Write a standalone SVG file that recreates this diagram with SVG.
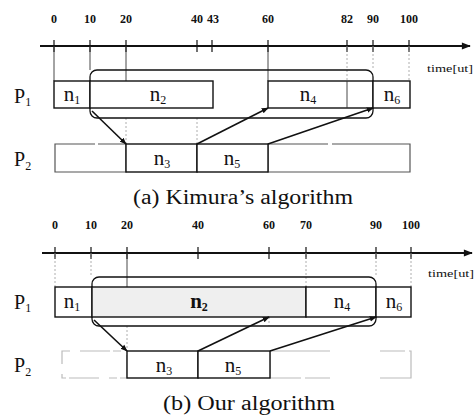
<svg xmlns="http://www.w3.org/2000/svg" width="475" height="415" viewBox="0 0 475 415">
<style>
text{font-family:"Liberation Serif","Times New Roman",serif;fill:#111}
.tk{font-size:12px;font-weight:bold;text-anchor:middle}
.nl{font-size:21px;text-anchor:middle}
.pl{font-size:20px}
.sub{font-size:12px}
.cap{font-size:20px;text-anchor:middle}
.tu{font-size:11px}
.box{fill:#fff;stroke:#111;stroke-width:1.4}
.grp{fill:none;stroke:#111;stroke-width:1.3}
.axis{stroke:#111;stroke-width:2;fill:none}
.tick{stroke:#111;stroke-width:1.2}
.guide{stroke:#333;stroke-width:0.9;fill:none}
.faint{stroke:#999;stroke-width:0.8;stroke-dasharray:2 2;fill:none}
.empty{fill:none;stroke:#555;stroke-width:1.2}
.arr{stroke:#111;stroke-width:1.6;fill:none;marker-end:url(#ah)}
</style>
<defs>
<marker id="ah" viewBox="0 0 10 10" refX="9" refY="5" markerWidth="7" markerHeight="7" orient="auto" markerUnits="userSpaceOnUse">
<path d="M0,1 L10,5 L0,9 z" fill="#111"/>
</marker>
<marker id="axh" viewBox="0 0 10 10" refX="9" refY="5" markerWidth="11" markerHeight="9" orient="auto" markerUnits="userSpaceOnUse">
<path d="M0,1 L10,5 L0,9 z" fill="#111"/>
</marker>
</defs>

<!-- (a) Kimura's algorithm -->
<g id="axis-a">
<text class="tk" x="54" y="23">0</text>
<text class="tk" x="90" y="23">10</text>
<text class="tk" x="126" y="23">20</text>
<text class="tk" x="197" y="23">40</text>
<text class="tk" x="213" y="23">43</text>
<text class="tk" x="268" y="23">60</text>
<text class="tk" x="347" y="23">82</text>
<text class="tk" x="373" y="23">90</text>
<text class="tk" x="409" y="23">100</text>
<line class="axis" x1="40" y1="46" x2="470" y2="46" marker-end="url(#axh)"/>
<g class="tick">
<line x1="54" y1="40" x2="54" y2="52"/><line x1="90" y1="40" x2="90" y2="52"/>
<line x1="126" y1="40" x2="126" y2="52"/><line x1="197" y1="40" x2="197" y2="52"/>
<line x1="212" y1="40" x2="212" y2="52"/><line x1="268" y1="40" x2="268" y2="52"/>
<line x1="347" y1="40" x2="347" y2="52"/><line x1="373" y1="40" x2="373" y2="52"/>
<line x1="409" y1="40" x2="409" y2="52"/>
</g>
<text class="tu" x="427" y="72" textLength="46" lengthAdjust="spacingAndGlyphs">time[ut]</text>
<line class="guide" x1="54" y1="46" x2="54" y2="81"/>
<line class="guide" x1="90" y1="46" x2="90" y2="70"/>
<line class="guide" x1="126" y1="46" x2="126" y2="81"/>
<line class="faint" x1="126" y1="118" x2="126" y2="144"/>
<line class="faint" x1="197" y1="118" x2="197" y2="144"/>
<line class="guide" x1="268" y1="46" x2="268" y2="81"/>
<line class="faint" x1="347" y1="46" x2="347" y2="81"/>
<line class="faint" x1="373" y1="46" x2="373" y2="70"/>
<line class="faint" x1="409" y1="46" x2="409" y2="81"/>
<text class="pl" x="14" y="103">P<tspan class="sub" dy="3">1</tspan></text>
<text class="pl" x="14" y="166">P<tspan class="sub" dy="4">2</tspan></text>
</g>
<g id="a-group"><rect class="grp" x="90" y="70" width="283" height="48" rx="7"/></g>
<g id="a-n1"><rect class="box" x="54" y="81" width="36" height="27"/><text class="nl" x="72" y="101">n<tspan class="sub" dy="3">1</tspan></text></g>
<g id="a-n2"><rect class="box" x="90" y="81" width="123" height="27"/><text class="nl" x="158" y="101">n<tspan class="sub" dy="3">2</tspan></text></g>
<g id="a-n4"><rect class="box" x="268" y="81" width="105" height="27"/><line class="guide" x1="347" y1="81" x2="347" y2="108"/><text class="nl" x="308" y="101">n<tspan class="sub" dy="3">4</tspan></text></g>
<g id="a-n6"><rect class="box" x="373" y="81" width="37" height="27"/><text class="nl" x="392" y="101">n<tspan class="sub" dy="3">6</tspan></text></g>
<g id="a-p2-idle"><rect class="empty" x="55" y="144" width="71" height="28" stroke-dasharray="40 3 200"/><rect class="empty" x="268" y="144" width="142" height="28" stroke-dasharray="60 4 400"/></g>
<g id="a-n3"><rect class="box" x="126" y="144" width="71" height="28"/><text class="nl" x="162" y="165">n<tspan class="sub" dy="3">3</tspan></text></g>
<g id="a-n5"><rect class="box" x="197" y="144" width="71" height="28"/><text class="nl" x="232" y="165">n<tspan class="sub" dy="3">5</tspan></text></g>
<g id="a-connectors">
<line class="arr" x1="92" y1="111" x2="126" y2="144"/>
<line class="arr" x1="197" y1="144" x2="268" y2="108"/>
<line class="arr" x1="268" y1="144" x2="373" y2="108"/>
</g>
<text class="cap" x="243" y="204" textLength="220" lengthAdjust="spacingAndGlyphs">(a) Kimura’s algorithm</text>

<!-- (b) Our algorithm -->
<g id="axis-b">
<text class="tk" x="55" y="229">0</text>
<text class="tk" x="91" y="229">10</text>
<text class="tk" x="127" y="229">20</text>
<text class="tk" x="198" y="229">40</text>
<text class="tk" x="269" y="229">60</text>
<text class="tk" x="306" y="229">70</text>
<text class="tk" x="376" y="229">90</text>
<text class="tk" x="411" y="229">100</text>
<line class="axis" x1="42" y1="253" x2="472" y2="253" marker-end="url(#axh)"/>
<g class="tick">
<line x1="55" y1="247" x2="55" y2="259"/><line x1="91" y1="247" x2="91" y2="259"/>
<line x1="127" y1="247" x2="127" y2="259"/><line x1="198" y1="247" x2="198" y2="259"/>
<line x1="269" y1="247" x2="269" y2="259"/><line x1="306" y1="247" x2="306" y2="259"/>
<line x1="376" y1="247" x2="376" y2="259"/><line x1="411" y1="247" x2="411" y2="259"/>
</g>
<text class="tu" x="428" y="277" textLength="46" lengthAdjust="spacingAndGlyphs">time[ut]</text>
<line class="faint" x1="55" y1="253" x2="55" y2="287"/>
<line class="faint" x1="91" y1="253" x2="91" y2="277"/>
<line class="guide" x1="127" y1="253" x2="127" y2="287"/>
<line class="faint" x1="127" y1="326" x2="127" y2="351"/>
<line class="faint" x1="269" y1="317" x2="269" y2="326"/>
<line class="faint" x1="306" y1="253" x2="306" y2="287"/>
<line class="faint" x1="376" y1="253" x2="376" y2="277"/>
<line class="faint" x1="411" y1="253" x2="411" y2="287"/>
<text class="pl" x="14" y="309">P<tspan class="sub" dy="3">1</tspan></text>
<text class="pl" x="14" y="372">P<tspan class="sub" dy="4">2</tspan></text>
</g>
<g id="b-group"><rect class="grp" x="92" y="277" width="284" height="49" rx="7"/></g>
<g id="b-n1"><rect class="box" x="55" y="287" width="37" height="30"/><text class="nl" x="72" y="308">n<tspan class="sub" dy="3">1</tspan></text></g>
<g id="b-n2"><rect class="box" x="92" y="287" width="214" height="30" style="fill:#efefef"/><text class="nl" x="199" y="308" font-weight="bold">n<tspan class="sub" dy="3" font-weight="bold">2</tspan></text></g>
<g id="b-n4"><rect class="box" x="306" y="287" width="70" height="30"/><text class="nl" x="342" y="308">n<tspan class="sub" dy="3">4</tspan></text></g>
<g id="b-n6"><rect class="box" x="376" y="287" width="35" height="30"/><text class="nl" x="394" y="308">n<tspan class="sub" dy="3">6</tspan></text></g>
<g id="b-p2-idle"><rect class="empty" x="62" y="351" width="65" height="27" style="stroke:#bbb" stroke-dasharray="8 10 30 3"/><rect class="empty" x="270" y="351" width="141" height="27" style="stroke:#bbb" stroke-dasharray="60 50 25 4"/></g>
<g id="b-n3"><rect class="box" x="127" y="351" width="71" height="27"/><text class="nl" x="164" y="372">n<tspan class="sub" dy="3">3</tspan></text></g>
<g id="b-n5"><rect class="box" x="198" y="351" width="72" height="27"/><text class="nl" x="233" y="372">n<tspan class="sub" dy="3">5</tspan></text></g>
<g id="b-connectors">
<line class="arr" x1="94" y1="320" x2="127" y2="351"/>
<line class="arr" x1="198" y1="351" x2="269" y2="317"/>
<line class="arr" x1="270" y1="351" x2="376" y2="317"/>
</g>
<text class="cap" x="249" y="410" textLength="172" lengthAdjust="spacingAndGlyphs">(b) Our algorithm</text>
</svg>
